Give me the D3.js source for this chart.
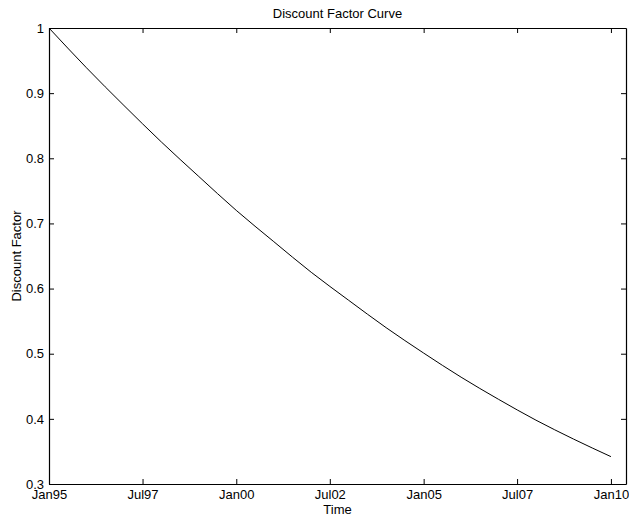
<!DOCTYPE html>
<html>
<head>
<meta charset="utf-8">
<script src="https://cdn.jsdelivr.net/npm/d3@7"></script>
<style>
body { margin: 0; background: #fff; }
text { font-family: "Liberation Sans", Arial, Helvetica, sans-serif; fill: #000; }
</style>
</head>
<body>
<script>
//values, one per year (Jan 1)
var years = [1995, 1996, 1997, 1998, 1999, 2000, 2001, 2002, 2003, 2004, 2005, 2006, 2007, 2008, 2009, 2010];
var discount = [1.000, 0.939, 0.881, 0.825, 0.772, 0.720, 0.672, 0.625, 0.582, 0.540, 0.501, 0.464, 0.430, 0.398, 0.369, 0.342];

//x tick positions and labels
var xTickDates = ["1995-01-01", "1997-07-01", "2000-01-01", "2002-07-01", "2005-01-01", "2007-07-01", "2010-01-01"];
var xTickLabels = ["Jan95", "Jul97", "Jan00", "Jul02", "Jan05", "Jul07", "Jan10"];
var yTicks = [0.3, 0.4, 0.5, 0.6, 0.7, 0.8, 0.9, 1];

(function(){

var width = 629, height = 521;
var plotLeft = 49, plotRight = 626, plotTop = 28, plotBottom = 484;
var fontSize = 13;

var svg = d3.select("body").append("svg")
	.attr("width", width)
	.attr("height", height);

var x = d3.scaleTime()
	.domain([new Date(1995, 0, 1), new Date(2010, 4, 28)])
	.range([plotLeft, plotRight]);

var y = d3.scaleLinear()
	.domain([0.3, 1])
	.range([plotBottom, plotTop]);

var tickDates = xTickDates.map(function(s){
	var p = s.split("-");
	return new Date(+p[0], +p[1] - 1, +p[2]);
});

//bottom axis, ticks pointing inward
svg.append("g")
	.attr("transform", "translate(0," + plotBottom + ")")
	.call(d3.axisBottom(x).tickValues(tickDates).tickSizeInner(-5).tickSizeOuter(0).tickPadding(6)
		.tickFormat(function(d, i){ return xTickLabels[i]; }))
	.call(styleAxis);

//top axis, no labels
svg.append("g")
	.attr("transform", "translate(0," + plotTop + ")")
	.call(d3.axisTop(x).tickValues(tickDates).tickSizeInner(-5).tickSizeOuter(0).tickFormat(""))
	.call(styleAxis);

//left axis
svg.append("g")
	.attr("transform", "translate(" + plotLeft + ",0)")
	.call(d3.axisLeft(y).tickValues(yTicks).tickSizeInner(-5).tickSizeOuter(0).tickPadding(5)
		.tickFormat(function(d){ return d3.format("~g")(d); }))
	.call(styleAxis);

//right axis, no labels
svg.append("g")
	.attr("transform", "translate(" + plotRight + ",0)")
	.call(d3.axisRight(y).tickValues(yTicks).tickSizeInner(-5).tickSizeOuter(0).tickFormat(""))
	.call(styleAxis);

function styleAxis(g){
	g.select(".domain").attr("stroke", "#000").attr("stroke-width", 1.2);
	g.selectAll(".tick line").attr("stroke", "#000").attr("stroke-width", 1);
	g.selectAll(".tick text").attr("font-size", fontSize).attr("fill", "#000")
		.style("font-family", "'Liberation Sans', Arial, Helvetica, sans-serif");
}

//curve
var line = d3.line()
	.x(function(d, i){ return x(new Date(years[i], 0, 1)); })
	.y(function(d){ return y(d); })
	.curve(d3.curveMonotoneX);

svg.append("path")
	.datum(discount)
	.attr("fill", "none")
	.attr("stroke", "#000")
	.attr("stroke-width", 1)
	.attr("d", line);

//title and axis labels
svg.append("text")
	.attr("x", (plotLeft + plotRight) / 2)
	.attr("y", 18)
	.attr("text-anchor", "middle")
	.attr("font-size", fontSize)
	.text("Discount Factor Curve");

svg.append("text")
	.attr("x", (plotLeft + plotRight) / 2)
	.attr("y", 514)
	.attr("text-anchor", "middle")
	.attr("font-size", fontSize)
	.text("Time");

svg.append("text")
	.attr("transform", "translate(21," + (plotTop + plotBottom) / 2 + ") rotate(-90)")
	.attr("text-anchor", "middle")
	.attr("font-size", fontSize)
	.text("Discount Factor");

})();
</script>
</body>
</html>
